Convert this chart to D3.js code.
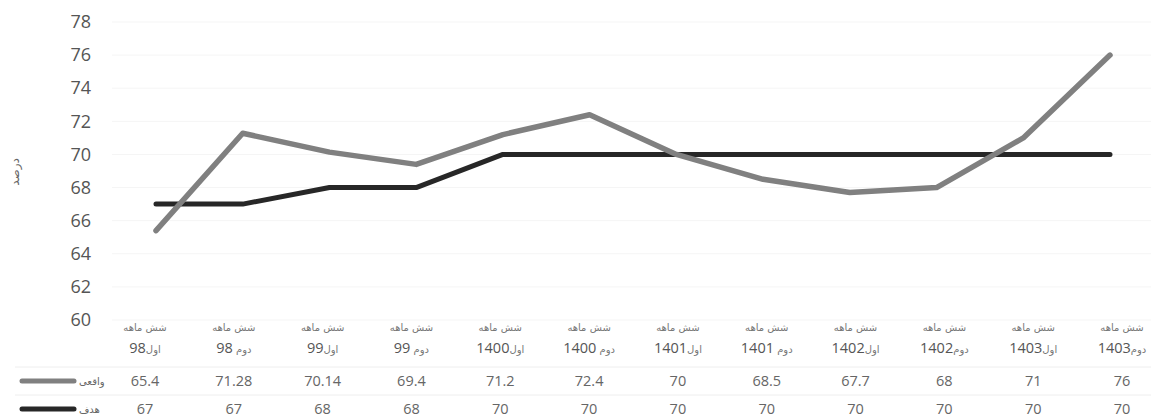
<!DOCTYPE html>
<html>
<head>
<meta charset="utf-8">
<script src="https://cdn.jsdelivr.net/npm/d3@7"></script>
<style>
  html, body { margin: 0; padding: 0; background: #fff; }
  svg { display: block; }
</style>
</head>
<body>
<svg id="chart" width="1151" height="419"></svg>
<script>
// Half-year periods (first line of each column header is "شش ماهه")
const periods = ["اول98", "دوم 98", "اول99", "دوم 99", "اول1400", "دوم 1400",
                 "اول1401", "دوم 1401", "اول1402", "دوم1402", "اول1403", "دوم1403"];
const periodPrefix = "شش ماهه";

// Actual (واقعی) and target (هدف) percentages
const actualValues = [65.4, 71.28, 70.14, 69.4, 71.2, 72.4, 70, 68.5, 67.7, 68, 71, 76];
const targetValues = [67, 67, 68, 68, 70, 70, 70, 70, 70, 70, 70, 70];
const actualLabels = ["65.4", "71.28", "70.14", "69.4", "71.2", "72.4", "70", "68.5", "67.7", "68", "71", "76"];
const targetLabels = ["67", "67", "68", "68", "70", "70", "70", "70", "70", "70", "70", "70"];

const seriesNames = ["واقعی", "هدف"];
const yTicks = [60, 62, 64, 66, 68, 70, 72, 74, 76, 78];
const yTitle = "درصد";

const svg = d3.select("#chart");
const W = 1151;

const y = d3.scaleLinear().domain([60, 78]).range([320, 22]);
const x = d3.scalePoint().domain(periods).range([156, 1110]);
const xTable = d3.scalePoint().domain(periods).range([145, 1122]);

const numFont = "'Open Sans', 'Liberation Sans', sans-serif";
const arFont = "'DejaVu Sans', 'Noto Sans', sans-serif";

// faint horizontal gridlines
svg.append("g")
  .selectAll("line")
  .data(yTicks)
  .join("line")
  .attr("x1", 112).attr("x2", W)
  .attr("y1", d => y(d)).attr("y2", d => y(d))
  .attr("stroke", "#f5f5f5")
  .attr("stroke-width", 1);

// y axis labels
const yAxis = d3.axisLeft(y).tickValues(yTicks).tickSize(0).tickPadding(0).tickFormat(d3.format("d"));
const yg = svg.append("g").attr("transform", "translate(91,0)").call(yAxis);
yg.select(".domain").remove();
yg.selectAll("text")
  .attr("font-family", numFont)
  .attr("font-size", 18)
  .attr("fill", "#555");

// y axis title
svg.append("text")
  .attr("transform", "translate(19,172) rotate(-90)")
  .attr("text-anchor", "middle")
  .attr("font-family", arFont)
  .attr("font-size", 12)
  .attr("fill", "#666")
  .text(yTitle);

// lines
const line = d3.line().x((d, i) => x(periods[i])).y(d => y(d));

svg.append("path")
  .datum(targetValues)
  .attr("d", line)
  .attr("fill", "none")
  .attr("stroke", "#272727")
  .attr("stroke-width", 5)
  .attr("stroke-linejoin", "round")
  .attr("stroke-linecap", "round");

svg.append("path")
  .datum(actualValues)
  .attr("d", line)
  .attr("fill", "none")
  .attr("stroke", "#808080")
  .attr("stroke-width", 5.5)
  .attr("stroke-linejoin", "round")
  .attr("stroke-linecap", "round");

// data table: faint row separators
[367, 395].forEach(yy => {
  svg.append("line")
    .attr("x1", 15).attr("x2", W)
    .attr("y1", yy).attr("y2", yy)
    .attr("stroke", "#eeeeee");
});

// column headers
const head = svg.append("g")
  .selectAll("g")
  .data(periods)
  .join("g")
  .attr("transform", d => `translate(${xTable(d)},0)`);

head.append("text")
  .attr("y", 331)
  .attr("text-anchor", "middle")
  .attr("direction", "rtl")
  .attr("font-family", arFont)
  .attr("font-size", 10)
  .attr("fill", "#777")
  .text(periodPrefix);

// second header line: small Persian word + larger year digits
const second = head.append("text")
  .attr("y", 353)
  .attr("text-anchor", "middle")
  .attr("direction", "rtl")
  .attr("fill", "#555");

second.each(function (d) {
  const m = d.match(/^(\D+?)(\s?)(\d+)$/);
  const t = d3.select(this);
  t.append("tspan")
    .attr("font-family", arFont)
    .attr("font-size", 10)
    .attr("fill", "#777")
    .text(m[1] + m[2]);
  t.append("tspan")
    .attr("font-family", numFont)
    .attr("font-size", 14.5)
    .text(m[3]);
});

// value rows
const rows = [
  { name: seriesNames[0], labels: actualLabels, color: "#808080", y: 381 },
  { name: seriesNames[1], labels: targetLabels, color: "#272727", y: 409 }
];

rows.forEach(r => {
  svg.append("line")
    .attr("x1", 22).attr("x2", 74)
    .attr("y1", r.y).attr("y2", r.y)
    .attr("stroke", r.color)
    .attr("stroke-width", 5)
    .attr("stroke-linecap", "round");
  svg.append("text")
    .attr("x", 79).attr("y", r.y)
    .attr("dy", "0.35em")
    .attr("font-family", arFont)
    .attr("font-size", 10)
    .attr("fill", "#666")
    .text(r.name);
  svg.append("g")
    .selectAll("text")
    .data(r.labels)
    .join("text")
    .attr("x", (d, i) => xTable(periods[i]))
    .attr("y", r.y)
    .attr("dy", "0.35em")
    .attr("text-anchor", "middle")
    .attr("font-family", numFont)
    .attr("font-size", 14.5)
    .attr("fill", "#666")
    .text(d => d);
});
</script>
</body>
</html>
